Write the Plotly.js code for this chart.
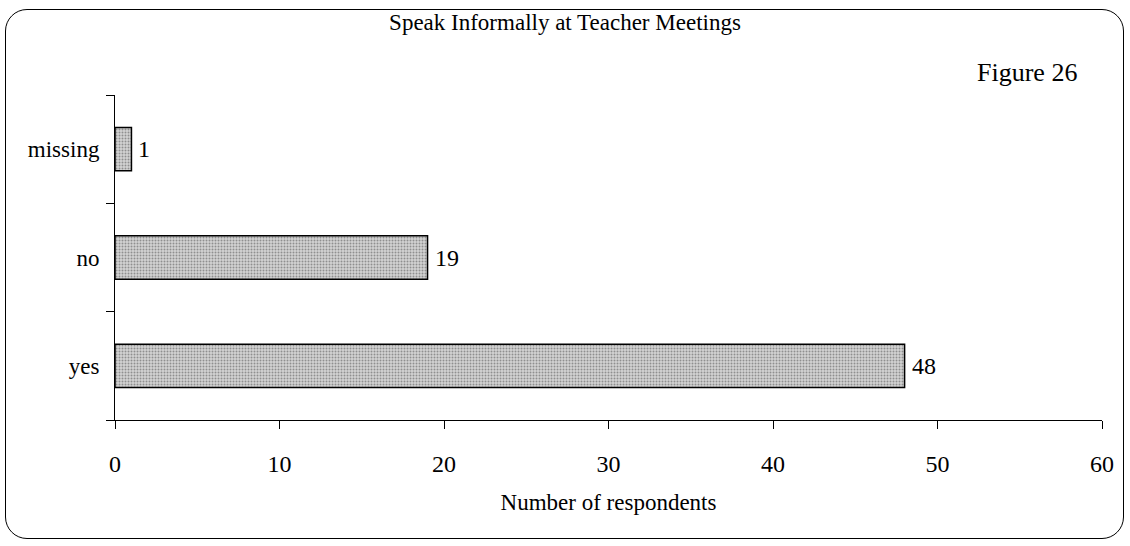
<!DOCTYPE html>
<html>
<head>
<meta charset="utf-8">
<script src="https://cdn.plot.ly/plotly-3.0.1.min.js"></script>
<style>
  html, body { margin: 0; padding: 0; background: #fff; }
  #wrap { position: relative; width: 1130px; height: 546px; }
  #chart { position: absolute; left: 0; top: 0; width: 1130px; height: 546px; }
  #frame { position: absolute; left: 5px; top: 9px; width: 1117px; height: 528px;
           border: 1.5px solid #000; border-radius: 22px; pointer-events: none; }
</style>
</head>
<body>
<div id="wrap">
  <div id="chart"></div>
  <div id="frame"></div>
</div>
<script>
const categories = ["yes", "no", "missing"];
const values = [48, 19, 1];
const xTicks = [0, 10, 20, 30, 40, 50, 60];
const chartTitle = "Speak Informally at Teacher Meetings";
const figureLabel = "Figure 26";
const xTitle = "Number of respondents";

const FONT = "Liberation Serif, Times New Roman, serif";

const trace = {
  type: "bar",
  orientation: "h",
  y: categories,
  x: values,
  marker: {
    color: "#c4c4c4",
    line: { color: "#000", width: 1.5 },
    pattern: { shape: ".", fgcolor: "#8f8f8f", bgcolor: "#d4d4d4", size: 3, solidity: 0.35 }
  },
  hoverinfo: "skip"
};

const valueLabels = categories.map((c, i) => ({
  text: String(values[i]),
  x: values[i], y: c,
  xref: "x", yref: "y",
  xanchor: "left", yanchor: "middle",
  xshift: 5,
  showarrow: false,
  font: { family: FONT, size: 24, color: "#000" }
}));

const layout = {
  width: 1130,
  height: 546,
  margin: { l: 115, r: 28, t: 95, b: 126 },
  paper_bgcolor: "#fff",
  plot_bgcolor: "#fff",
  showlegend: false,
  bargap: 0.6,
  font: { family: FONT, color: "#000", size: 22 },
  title: {
    text: chartTitle,
    font: { family: FONT, size: 23, color: "#000" },
    x: 0.5, xref: "container", xanchor: "center",
    y: 1 - 22 / 546, yref: "container", yanchor: "middle"
  },
  xaxis: {
    range: [0, 60],
    tickvals: xTicks,
    ticktext: xTicks.map(String),
    ticks: "outside",
    ticklen: 8,
    tickwidth: 1,
    tickcolor: "#000",
    showline: true,
    linecolor: "#000",
    linewidth: 1,
    showgrid: false,
    zeroline: false,
    tickfont: { family: FONT, size: 24, color: "#000" },
    ticklabelstandoff: 14,
    title: { text: xTitle, font: { family: FONT, size: 23, color: "#000" }, standoff: 18 },
    fixedrange: true
  },
  yaxis: {
    type: "category",
    categoryorder: "array",
    categoryarray: categories,
    range: [-0.5, 2.5],
    ticks: "outside",
    tickson: "boundaries",
    ticklen: 8,
    tickwidth: 1,
    tickcolor: "#000",
    showline: true,
    linecolor: "#000",
    linewidth: 1,
    showgrid: false,
    zeroline: false,
    tickfont: { family: FONT, size: 23, color: "#000" },
    ticklabelstandoff: 10,
    fixedrange: true
  },
  annotations: valueLabels.concat([{
    text: figureLabel,
    xref: "paper", yref: "paper",
    x: (1027 - 115) / 987, y: (420 - 72) / 325,
    xanchor: "center", yanchor: "middle",
    showarrow: false,
    font: { family: FONT, size: 26, color: "#000" }
  }])
};

Plotly.newPlot("chart", [trace], layout, { displayModeBar: false, staticPlot: true });
</script>
</body>
</html>
